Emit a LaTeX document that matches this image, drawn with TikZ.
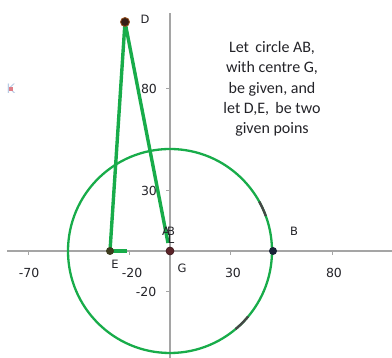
\documentclass[tikz,border=0pt]{standalone}
\usepackage{fontspec}
\setmainfont{Carlito}
\newfontfamily\axfont{DejaVu Sans}
\definecolor{geo}{RGB}{24,172,74}
\definecolor{axgray}{RGB}{165,165,165}
\definecolor{arcdark}{RGB}{70,70,70}
\definecolor{lbl}{RGB}{35,35,40}
\begin{document}
\begin{tikzpicture}[x=1pt,y=1pt,
  axisline/.style={draw=axgray,line width=1.4pt},
  tickmark/.style={draw=axgray,line width=1pt},
  ticklabel/.style={font=\axfont\fontsize{12.5}{14}\selectfont,text=lbl,inner sep=0pt},
  ptlabel/.style={font=\axfont\fontsize{11.5}{13}\selectfont,text=lbl,inner sep=0pt},
  seg/.style={draw=geo,line width=3.4pt},
  circ/.style={draw=geo,line width=2.3pt},
  darkarc/.style={draw=arcdark,line width=2.3pt},
  dot/.style={circle,inner sep=0pt,minimum size=#1},
  note/.style={font=\fontsize{16}{20.3}\selectfont,align=center,text=lbl,inner sep=0pt}]
\useasboundingbox (0,0) rectangle (392,358);
% axes
\coordinate (xl) at (7,107);
\coordinate (xr) at (392,107);
\coordinate (yb) at (170,0);
\coordinate (yt) at (170,345);
\draw[axisline] (xl) -- (xr);
\draw[axisline] (yb) -- (yt);
% x ticks
\foreach \x in {28.25,129.5,230.75,332}{
  \draw[tickmark] (\x,107) -- (\x,103);
}
\node[ticklabel] (tm70) at (29,85) {-70};
\node[ticklabel] (tm20) at (132,85) {-20};
\node[ticklabel] (t30) at (233,85) {30};
\node[ticklabel] (t80) at (334,85) {80};
% y ticks
\foreach \y in {269,167.75,66.5}{
  \draw[tickmark] (166,\y) -- (170,\y);
}
\node[ticklabel] (ty80) at (149,269) {80};
\node[ticklabel] (ty30) at (149,167.5) {30};
\node[ticklabel] (tym20) at (146,66.5) {-20};
% points
\coordinate (G) at (170,107);
\coordinate (Dp) at (125,336);
\coordinate (Ep) at (110,107);
\coordinate (Lp) at (168,115);
\coordinate (Ee) at (127,107);
\coordinate (Bp) at (273,107);
% circle
\draw[circ] (G) circle (102);
\draw[darkarc] ([shift={(20:102)}]G) arc (20:29:102);
\draw[darkarc] ([shift={(-50:102)}]G) arc (-50:-40:102);
% segments
\draw[seg] (Ep) -- (Dp);
\draw[seg] (Dp) -- (Lp);
\draw[seg] (Ep) -- (Ee);
% dots
\node[dot=9pt,fill={rgb,255:red,55;green,30;blue,20},draw={rgb,255:red,150;green,80;blue,30},line width=0.8pt] (D) at (Dp) {};
\node[dot=8pt,fill={rgb,255:red,60;green,60;blue,30}] (E) at (Ep) {};
\node[dot=8pt,fill={rgb,255:red,90;green,35;blue,40},draw={rgb,255:red,60;green,20;blue,25},line width=0.6pt] (Gd) at (G) {};
\node[dot=8pt,fill={rgb,255:red,25;green,35;blue,55}] (B) at (Bp) {};
% K point (faint, at the left)
\node[font=\axfont\fontsize{13}{14}\selectfont,text={rgb,255:red,185;green,203;blue,228},inner sep=0pt] (K) at (11,269) {K};
\node[rectangle,inner sep=0pt,minimum size=4pt,fill={rgb,255:red,222;green,125;blue,135}] (Kp) at (11,269) {};
% labels
\node[ptlabel] (lD) at (145,339) {D};
\node[ptlabel] (lE) at (115,94) {E};
\node[ptlabel] (lG) at (182,90) {G};
\node[ptlabel] (lB) at (294,127) {B};
\node[ptlabel] (lA) at (166,127) {A};
\node[ptlabel] (lB2) at (171,127) {B};
\node[ptlabel] (lL) at (171,119) {L};
% note
\node[note] (txt) at (272,269) {Let\, circle AB,\\with centre G,\\be given, and\\let D,E,\, be two\\given poins};
\end{tikzpicture}
\end{document}
